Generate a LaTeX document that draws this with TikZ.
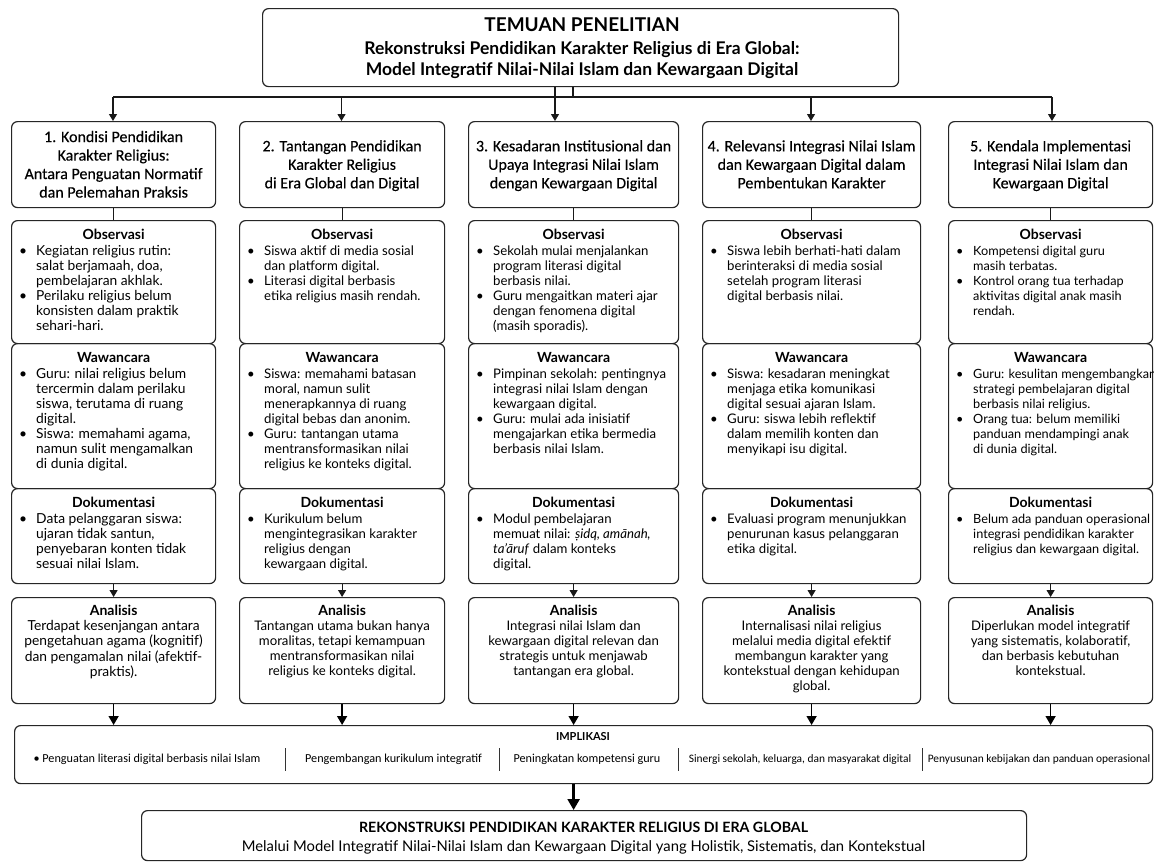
\documentclass[tikz,border=0pt]{standalone}
\usepackage{fontspec}
\setmainfont{Lato}
\newfontfamily\headfont{Carlito}
\newfontfamily\headfontm[FakeBold=0.3]{Carlito}
\usetikzlibrary{arrows.meta}

\tikzset{
  box/.style={draw=black!85, line width=1.2pt, rounded corners=6pt, inner sep=0pt},
  conn/.style={draw=black!90, line width=1.1pt},
  arr/.style={conn, -{Triangle[length=7pt,width=8pt]}},
  midarr/.style={draw=black, line width=1.5pt, -{Triangle[length=9pt,width=10pt]}},
  bigarr/.style={draw=black, line width=2.4pt, -{Triangle[length=11pt,width=12pt]}},
  sep/.style={draw=black!80, line width=0.8pt},
  titletxt/.style={font=\bfseries\fontsize{19}{21}\selectfont, inner sep=0pt},
  subtitletxt/.style={font=\bfseries\fontsize{17.5}{21}\selectfont, inner sep=0pt},
  headtxt/.style={font=\headfontm\fontsize{16}{18.5}\selectfont, inner sep=0pt},
  sectitle/.style={font=\bfseries\fontsize{14}{15}\selectfont, inner sep=0pt},
  bodytxt/.style={font=\fontsize{13.2}{15}\selectfont, inner sep=0pt},
  bodyA/.style={font=\fontsize{13.8}{15}\selectfont},
  bodyE/.style={font=\fontsize{12.7}{15}\selectfont},
  impltitle/.style={font=\bfseries\fontsize{11}{13}\selectfont, inner sep=0pt},
  impltxt/.style={font=\headfont\fontsize{12.2}{14}\selectfont, inner sep=0pt},
  impltxtsmall/.style={impltxt, font=\headfont\fontsize{11.4}{14}\selectfont},
  fintitle/.style={font=\bfseries\fontsize{14.2}{16}\selectfont, inner sep=0pt},
  fintxt/.style={font=\fontsize{14.8}{16}\selectfont, inner sep=0pt},
}

\newcommand\bul{\makebox[17pt][l]{•}}
\newcommand\ind{\hspace*{17pt}}

% name, x, y, w, h, heading lines
\newcommand\headbox[6]{%
  \node[box, anchor=north west, minimum width=#4pt, minimum height=#5pt] (#1) at (#2,#3) {};
  \node[headtxt] (#1t) at ([yshift=-1.5pt]#1.center) {\begin{tabular}{@{}c@{}}#6\end{tabular}};
}
% [font style], name, x, y, w, h, title, bullet lines
\newcommand\secbox[8][]{%
  \node[box, anchor=north west, minimum width=#5pt, minimum height=#6pt] (#2) at (#3,#4) {};
  \node[sectitle, anchor=base] (#2t) at ([yshift=-19.5pt]#2.north) {#7};
  \node[bodytxt, #1, anchor=north west] (#2c) at ([xshift=8pt,yshift=-24.5pt]#2.north west) {\begin{tabular}{@{}l@{}}#8\end{tabular}};
}
% [font style], name, x, y, w, h, centered lines
\newcommand\analbox[7][]{%
  \node[box, anchor=north west, minimum width=#5pt, minimum height=#6pt] (#2) at (#3,#4) {};
  \node[sectitle, anchor=base] (#2t) at ([yshift=-18.5pt]#2.north) {Analisis};
  \node[bodytxt, #1, anchor=north] (#2c) at ([yshift=-23pt]#2.north) {\begin{tabular}{@{}c@{}}#7\end{tabular}};
}

\begin{document}
\begin{tikzpicture}[x=1pt,y=-1pt]
\useasboundingbox (0,0) rectangle (1154,863);
\fill[white] (0,0) rectangle (1154,863);

% ---------- title ----------
\node[box, anchor=north west, minimum width=636pt, minimum height=78pt] (title) at (262,8) {};
\node[titletxt, anchor=base] (title1) at (582,31.5) {TEMUAN PENELITIAN};
\node[subtitletxt, anchor=base] (title2) at (582,54) {Rekonstruksi Pendidikan Karakter Religius di Era Global:};
\node[subtitletxt, anchor=base] (title3) at (582,75.5) {Model Integratif Nilai-Nilai Islam dan Kewargaan Digital};

% ---------- headings ----------
\headbox{h1}{11}{121}{204}{86}{1. Kondisi Pendidikan\\Karakter Religius:\\Antara Penguatan Normatif\\dan Pelemahan Praksis}
\headbox{h2}{239}{121}{205}{86}{2. Tantangan Pendidikan\\Karakter Religius\\di Era Global dan Digital}
\headbox{h3}{468}{121}{210}{86}{3. Kesadaran Institusional dan\\Upaya Integrasi Nilai Islam\\dengan Kewargaan Digital}
\headbox{h4}{702}{121}{218}{86}{4. Relevansi Integrasi Nilai Islam\\dan Kewargaan Digital dalam\\Pembentukan Karakter}
\headbox{h5}{948}{121}{204}{86}{5. Kendala Implementasi\\Integrasi Nilai Islam dan\\Kewargaan Digital}

% ---------- observasi ----------
\secbox[bodyA]{o1}{11}{220}{204}{123}{Observasi}{\bul Kegiatan religius rutin:\\\ind salat berjamaah, doa,\\\ind pembelajaran akhlak.\\\bul Perilaku religius belum\\\ind konsisten dalam praktik\\\ind sehari-hari.}
\secbox{o2}{239}{220}{205}{123}{Observasi}{\bul Siswa aktif di media sosial\\\ind dan platform digital.\\\bul Literasi digital berbasis\\\ind etika religius masih rendah.}
\secbox{o3}{468}{220}{210}{123}{Observasi}{\bul Sekolah mulai menjalankan\\\ind program literasi digital\\\ind berbasis nilai.\\\bul Guru mengaitkan materi ajar\\\ind dengan fenomena digital\\\ind (masih sporadis).}
\secbox{o4}{702}{220}{218}{123}{Observasi}{\bul Siswa lebih berhati-hati dalam\\\ind berinteraksi di media sosial\\\ind setelah program literasi\\\ind digital berbasis nilai.}
\secbox[bodyE]{o5}{948}{220}{204}{123}{Observasi}{\bul Kompetensi digital guru\\\ind masih terbatas.\\\bul Kontrol orang tua terhadap\\\ind aktivitas digital anak masih\\\ind rendah.}

% ---------- wawancara ----------
\secbox[bodyA]{w1}{11}{343}{204}{145}{Wawancara}{\bul Guru: nilai religius belum\\\ind tercermin dalam perilaku\\\ind siswa, terutama di ruang\\\ind digital.\\\bul Siswa: memahami agama,\\\ind namun sulit mengamalkan\\\ind di dunia digital.}
\secbox{w2}{239}{343}{205}{145}{Wawancara}{\bul Siswa: memahami batasan\\\ind moral, namun sulit\\\ind menerapkannya di ruang\\\ind digital bebas dan anonim.\\\bul Guru: tantangan utama\\\ind mentransformasikan nilai\\\ind religius ke konteks digital.}
\secbox{w3}{468}{343}{210}{145}{Wawancara}{\bul Pimpinan sekolah: pentingnya\\\ind integrasi nilai Islam dengan\\\ind kewargaan digital.\\\bul Guru: mulai ada inisiatif\\\ind mengajarkan etika bermedia\\\ind berbasis nilai Islam.}
\secbox{w4}{702}{343}{218}{145}{Wawancara}{\bul Siswa: kesadaran meningkat\\\ind menjaga etika komunikasi\\\ind digital sesuai ajaran Islam.\\\bul Guru: siswa lebih reflektif\\\ind dalam memilih konten dan\\\ind menyikapi isu digital.}
\secbox[bodyE]{w5}{948}{343}{204}{145}{Wawancara}{\bul Guru: kesulitan mengembangkan\\\ind strategi pembelajaran digital\\\ind berbasis nilai religius.\\\bul Orang tua: belum memiliki\\\ind panduan mendampingi anak\\\ind di dunia digital.}

% ---------- dokumentasi ----------
\secbox[bodyA]{d1}{11}{488}{204}{95}{Dokumentasi}{\bul Data pelanggaran siswa:\\\ind ujaran tidak santun,\\\ind penyebaran konten tidak\\\ind sesuai nilai Islam.}
\secbox{d2}{239}{488}{205}{95}{Dokumentasi}{\bul Kurikulum belum\\\ind mengintegrasikan karakter\\\ind religius dengan\\\ind kewargaan digital.}
\secbox{d3}{468}{488}{210}{95}{Dokumentasi}{\bul Modul pembelajaran\\\ind memuat nilai: \textit{ṣidq, amānah,}\\\ind \textit{ta’āruf} dalam konteks\\\ind digital.}
\secbox{d4}{702}{488}{218}{95}{Dokumentasi}{\bul Evaluasi program menunjukkan\\\ind penurunan kasus pelanggaran\\\ind etika digital.}
\secbox[bodyE]{d5}{948}{488}{204}{95}{Dokumentasi}{\bul Belum ada panduan operasional\\\ind integrasi pendidikan karakter\\\ind religius dan kewargaan digital.}

% ---------- analisis ----------
\analbox[bodyA]{a1}{11}{597}{204}{106}{Terdapat kesenjangan antara\\pengetahuan agama (kognitif)\\dan pengamalan nilai (afektif-\\praktis).}
\analbox{a2}{239}{597}{205}{106}{Tantangan utama bukan hanya\\moralitas, tetapi kemampuan\\mentransformasikan nilai\\religius ke konteks digital.}
\analbox{a3}{468}{597}{210}{106}{Integrasi nilai Islam dan\\kewargaan digital relevan dan\\strategis untuk menjawab\\tantangan era global.}
\analbox{a4}{702}{597}{218}{106}{Internalisasi nilai religius\\melalui media digital efektif\\membangun karakter yang\\kontekstual dengan kehidupan\\global.}
\analbox{a5}{948}{597}{204}{106}{Diperlukan model integratif\\yang sistematis, kolaboratif,\\dan berbasis kebutuhan\\kontekstual.}

% ---------- implikasi ----------
\node[box, anchor=north west, minimum width=1138pt, minimum height=58pt] (impl) at (14,725) {};
\node[impltitle, anchor=base] (implt) at (583,740.5) {IMPLIKASI};
\node[impltxt, anchor=base] (i1) at (147,762) {• Penguatan literasi digital berbasis nilai Islam};
\node[impltxt, anchor=base] (i2) at (393.5,762) {Pengembangan kurikulum integratif};
\node[impltxt, anchor=base] (i3) at (587,762) {Peningkatan kompetensi guru};
\node[impltxtsmall, anchor=base] (i4) at (800,762) {Sinergi sekolah, keluarga, dan masyarakat digital};
\node[impltxtsmall, anchor=base] (i5) at (1039,762) {Penyusunan kebijakan dan panduan operasional};
\draw[sep] (285,748) -- (285,771);
\draw[sep] (499,748) -- (499,771);
\draw[sep] (678,748) -- (678,771);
\draw[sep] (922,748) -- (922,771);

% ---------- final ----------
\node[box, anchor=north west, minimum width=885pt, minimum height=50pt] (final) at (141,810) {};
\node[fintitle, anchor=base] (fin1) at (583.5,832) {REKONSTRUKSI PENDIDIKAN KARAKTER RELIGIUS DI ERA GLOBAL};
\node[fintxt, anchor=base] (fin2) at (583.5,851) {Melalui Model Integratif Nilai-Nilai Islam dan Kewargaan Digital yang Holistik, Sistematis, dan Kontekstual};

% ---------- connectors ----------
\coordinate (j1) at (113,97);
\coordinate (j2) at (341.5,97);
\coordinate (j3) at (555,97);
\coordinate (js) at (573,97);
\coordinate (j4) at (811,97);
\coordinate (j5) at (1052,97);
\draw[conn] (title.south -| js) -- (js);
\draw[conn] (title.south -| j3) -- (j3);
\draw[conn] (j1) -- (j5);
\draw[arr] (j1) -- (j1 |- h1.north);
\draw[arr] (j2) -- (j2 |- h2.north);
\draw[arr] (j3) -- (j3 |- h3.north);
\draw[arr] (j4) -- (j4 |- h4.north);
\draw[arr] (j5) -- (j5 |- h5.north);

\foreach \i in {1,...,5}{
  \draw[conn] (h\i.south) -- (o\i.north);
  \draw[arr] (d\i.south) -- (a\i.north);
  \draw[midarr] (a\i.south) -- (a\i.south |- impl.north);
}
\draw[bigarr] (impl.south -| a3.south) -- (a3.south |- final.north);
\end{tikzpicture}
\end{document}
